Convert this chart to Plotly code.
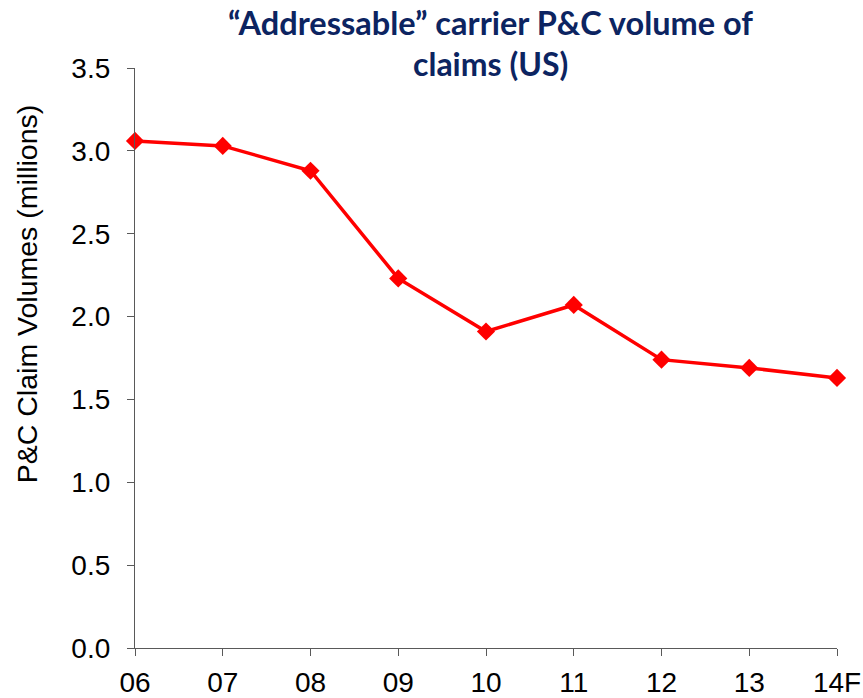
import plotly.graph_objects as go

categories = ["06", "07", "08", "09", "10", "11", "12", "13", "14F"]
claims = [3.06, 3.03, 2.88, 2.23, 1.91, 2.07, 1.74, 1.69, 1.63]
y_ticks = [0.0, 0.5, 1.0, 1.5, 2.0, 2.5, 3.0, 3.5]

axis_color = "#595959"

fig = go.Figure()
fig.add_trace(go.Scatter(
    x=categories, y=claims, mode="lines+markers",
    line=dict(color="#FF0000", width=3.5),
    marker=dict(symbol="diamond", size=14, color="#FF0000"),
    cliponaxis=False, showlegend=False,
))

fig.update_layout(
    width=863, height=698,
    paper_bgcolor="white", plot_bgcolor="white",
    margin=dict(l=135, r=26, t=68, b=50, autoexpand=False),
    xaxis=dict(
        type="category", range=[0, 8], showgrid=False, zeroline=False,
        showline=True, linecolor=axis_color, linewidth=1.3,
        ticks="outside", ticklen=7, tickcolor=axis_color, tickwidth=1.3,
        tickfont=dict(family="Liberation Sans, Arial", size=28, color="#000000"),
        ticklabelstandoff=2,
    ),
    yaxis=dict(
        range=[0, 3.5], tickvals=y_ticks, tickformat=".1f", showgrid=False, zeroline=False,
        showline=True, linecolor=axis_color, linewidth=1.3,
        ticks="outside", ticklen=7, tickcolor=axis_color, tickwidth=1.3,
        tickfont=dict(family="Liberation Sans, Arial", size=28, color="#000000"),
        ticklabelstandoff=11,
    ),
    annotations=[
        dict(text="<b>“Addressable” carrier P&C volume of</b>",
             xref="paper", yref="paper", x=0.506, y=1.0793,
             xanchor="center", yanchor="middle", showarrow=False,
             font=dict(family="Lato, Open Sans, sans-serif", size=32.5, color="#0C2461")),
        dict(text="<b>claims (US)</b>",
             xref="paper", yref="paper", x=0.506, y=1.0069,
             xanchor="center", yanchor="middle", showarrow=False,
             font=dict(family="Lato, Open Sans, sans-serif", size=32, color="#0C2461")),
        dict(text="P&C Claim Volumes (millions)", textangle=-90,
             xref="paper", yref="paper", x=-0.1538, y=0.610,
             xanchor="center", yanchor="middle", showarrow=False,
             font=dict(family="Liberation Sans, Arial", size=28.5, color="#000000")),
    ],
)

fig.write_html(
    "out.html",
    config={"displayModeBar": False},
    post_script="document.body.style.margin='0';document.body.style.overflow='hidden';",
)
